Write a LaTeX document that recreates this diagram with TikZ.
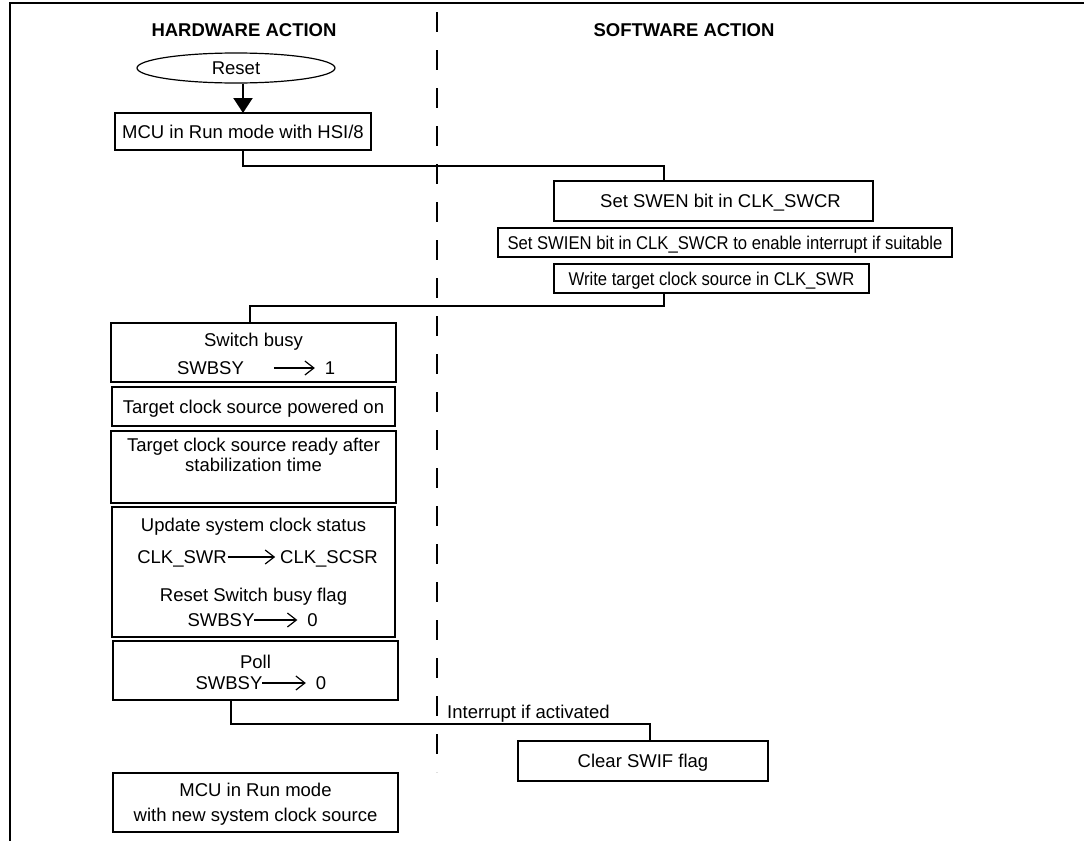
\documentclass[tikz,border=0pt]{standalone}
\usepackage{graphicx}
\usepackage{fontspec}
\setmainfont{Liberation Sans}
\usetikzlibrary{shapes.geometric,arrows.meta}
\begin{document}
\begin{tikzpicture}[x=0.5pt,y=-0.5pt,
  every node/.style={font=\fontsize{9.25}{10}\selectfont},
  txt/.style={inner sep=0pt,outer sep=0pt,text height=6.6pt,text depth=0pt},
  box/.style={draw,line width=1pt,inner sep=0pt,outer sep=0pt,text height=6.6pt,text depth=0pt},
  conn/.style={line width=1pt},
  tarr/.style={line width=0.6pt,-{Straight Barb[length=4.5pt,width=7pt,line width=0.6pt]}}]
\useasboundingbox (0,0) rectangle (1084,841);
% frame and lane separator
\draw[line width=1.1pt] (1084,3) -- (10,3) -- (10,841);
\draw[line width=1pt,dash pattern=on 10pt off 9pt] (437,12) -- (437,772);
% headers
\node[txt,font=\fontsize{9.25}{10}\selectfont\bfseries] (hw) at (244,30) {HARDWARE ACTION};
\node[txt,font=\fontsize{9.25}{10}\selectfont\bfseries] (sw) at (684,30) {SOFTWARE ACTION};
% reset
\node[ellipse,draw,line width=0.6pt,minimum width=99pt,minimum height=15pt,inner sep=0pt,text height=6.6pt,text depth=0pt] (reset) at (236,68) {Reset};
\node[box,minimum width=128pt,minimum height=18.5pt] (mcu1) at (243,131.5) {MCU in Run mode with HSI/8};
\draw[conn,-{Triangle[length=7.5pt,width=9.5pt]}] (reset.south -| mcu1.north) -- (mcu1.north);
% software steps
\node[box,minimum width=159.5pt,minimum height=20pt] (swen) at (713.5,201) {\hspace*{7pt}Set SWEN bit in CLK\_SWCR};
\node[box,minimum width=227pt,minimum height=14.5pt] (swien) at (725,242.5) {\scalebox{0.9}[1]{Set SWIEN bit in CLK\_SWCR to enable interrupt if suitable}};
\node[box,minimum width=157.5pt,minimum height=14.5pt] (write) at (711.5,278.5) {\scalebox{0.9}[1]{Write target clock source in CLK\_SWR}};
\draw[conn] (mcu1.south) -- ++(0,16) -| ([xshift=-24.75pt]swen.north);
% hardware steps
\node[box,minimum width=142.5pt,minimum height=29.5pt] (busy) at (253.5,352.5) {};
\node[txt] (busyt) at (253.5,340) {Switch busy};
\node[txt] (sw1) at (210.5,368) {SWBSY};
\node[txt] (one) at (330,368) {1};
\draw[tarr] ([xshift=15pt]sw1.east) -- ([xshift=-5pt]one.west);
\draw[conn] ([xshift=-23.75pt]write.south) -- ++(0,13) -| ([xshift=-1.75pt]busy.north);
\node[box,minimum width=141.5pt,minimum height=19.5pt] (pow) at (253.5,406.5) {Target clock source powered on};
\node[box,minimum width=142.5pt,minimum height=36pt] (ready) at (253.5,467) {};
\node[txt] (readya) at (253.5,445) {Target clock source ready after};
\node[txt] (readyb) at (253.5,465) {stabilization time};
\node[box,minimum width=141.5pt,minimum height=65pt] (upd) at (253.5,572) {};
\node[txt] (upda) at (253.5,525) {Update system clock status};
\node[txt] (clkswr) at (182,557) {CLK\_SWR};
\node[txt] (clkscsr) at (329,557) {CLK\_SCSR};
\draw[tarr] ([xshift=0.5pt]clkswr.east) -- ([xshift=-2.5pt]clkscsr.west);
\node[txt] (updc) at (253.5,595) {Reset Switch busy flag};
\node[txt] (sw2) at (221,620) {SWBSY};
\node[txt] (zero2) at (312.5,620) {0};
\draw[tarr] (sw2.east) -- ([xshift=-5pt]zero2.west);
\node[box,minimum width=142.5pt,minimum height=29.5pt] (poll) at (255.5,670.5) {};
\node[txt] (pollt) at (255.5,662) {Poll};
\node[txt] (sw3) at (229,683) {SWBSY};
\node[txt] (zero3) at (321,683) {0};
\draw[tarr] (sw3.east) -- ([xshift=-5pt]zero3.west);
\node[box,minimum width=125pt,minimum height=20pt] (clear) at (643,761) {Clear SWIF flag};
\draw[conn] ([xshift=-12.25pt]poll.south) -- ++(0,24) -| node[txt,pos=0.258,anchor=south west,yshift=2.7pt] (intl) {Interrupt if activated} ([xshift=3.5pt]clear.north);
\node[box,minimum width=142.5pt,minimum height=29.5pt] (mcu2) at (255.5,802.5) {};
\node[txt] (mcu2a) at (255.5,790) {MCU in Run mode};
\node[txt] (mcu2b) at (255.5,815) {with new system clock source};
\end{tikzpicture}
\end{document}
